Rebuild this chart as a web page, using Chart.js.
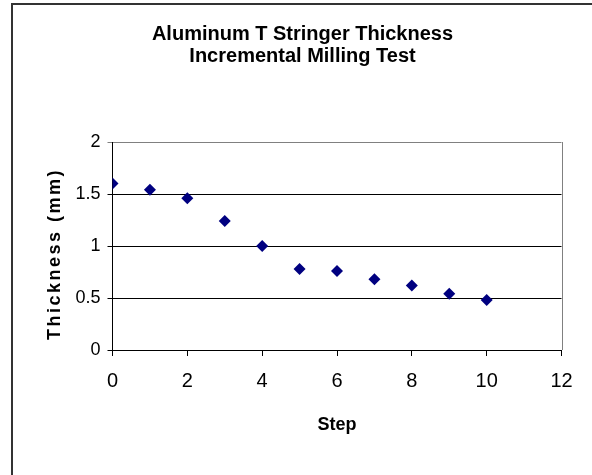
<!DOCTYPE html>
<html>
<head>
<meta charset="utf-8">
<script src="https://cdn.jsdelivr.net/npm/chart.js@4.4.0/dist/chart.umd.min.js"></script>
<style>
	html, body {margin: 0; padding: 0; background: #ffffff;}
	#wrap {width: 592px; height: 475px; position: relative;}
</style>
</head>
<body>
<div id="wrap"><canvas id="chart" width="592" height="475"></canvas></div>
<script>
// values
const steps = [0, 1, 2, 3, 4, 5, 6, 7, 8, 9, 10];
const thickness = [1.6, 1.54, 1.46, 1.24, 1.0, 0.78, 0.76, 0.68, 0.62, 0.54, 0.48];
const titleLines = ['Aluminum T Stringer Thickness', 'Incremental Milling Test'];
const xTitle = 'Step';
const yTitle = 'Thickness (mm)';

const FONT = "'Liberation Sans', Arial, sans-serif";

let points = steps.map((s, i) => ({x: s, y: thickness[i]}));

// outer frame, plot right edge and the spaced-out y axis title
const extras = {
	id: 'extras',
	afterDraw(chart) {
		const ctx = chart.ctx;
		const area = chart.chartArea;
		ctx.save();
		// chart frame (only left and top fit in the window)
		ctx.strokeStyle = '#333333';
		ctx.lineWidth = 2;
		ctx.beginPath();
		ctx.moveTo(12, 475);
		ctx.lineTo(12, 4);
		ctx.lineTo(592, 4);
		ctx.stroke();
		// plot area right border
		ctx.strokeStyle = '#808080';
		ctx.lineWidth = 1;
		ctx.beginPath();
		ctx.moveTo(Math.round(area.right) + 0.5, area.top);
		ctx.lineTo(Math.round(area.right) + 0.5, area.bottom);
		ctx.stroke();
		// y title
		ctx.translate(55, 254);
		ctx.rotate(-Math.PI / 2);
		ctx.font = 'bold 18px ' + FONT;
		ctx.letterSpacing = '2.5px';
		ctx.fillStyle = '#000000';
		ctx.textAlign = 'center';
		ctx.textBaseline = 'middle';
		ctx.fillText(yTitle, 0, 0);
		ctx.restore();
	}
};

let ctx = document.getElementById('chart').getContext('2d');
let chart = new Chart(ctx, {
	type: 'scatter',
	data: {
		datasets: [{
			data: points,
			pointStyle: 'rectRot',
			pointRadius: 6,
			backgroundColor: '#000080',
			borderColor: '#000080',
			borderWidth: 0
		}]
	},
	options: {
		responsive: false,
		animation: false,
		layout: {padding: {left: 43.5, right: 30.5, top: 0, bottom: 0}},
		plugins: {
			legend: {display: false},
			tooltip: {enabled: false},
			title: {
				display: true,
				text: titleLines,
				color: '#000000',
				font: {family: FONT, size: 20, weight: 'bold', lineHeight: 1.1},
				padding: {top: 23, bottom: 75}
			}
		},
		scales: {
			x: {
				type: 'linear',
				min: 0,
				max: 12,
				ticks: {stepSize: 2, color: '#000000', font: {family: FONT, size: 20}, padding: 13},
				grid: {drawOnChartArea: false, drawTicks: true, tickLength: 6, color: '#000000'},
				border: {display: true, color: '#000000', width: 1},
				title: {
					display: true,
					text: xTitle,
					color: '#000000',
					font: {family: FONT, size: 18, weight: 'bold'},
					padding: {top: 0, bottom: 39}
				},
				afterFit: (scale) => { scale.height = 125; }
			},
			y: {
				min: 0,
				max: 2,
				ticks: {
					stepSize: 0.5,
					color: '#000000',
					font: {family: FONT, size: 18},
					padding: 7,
					callback: (v) => String(v)
				},
				grid: {
					drawTicks: true,
					tickLength: 5,
					color: (c) => c.tick && c.tick.value === 2 ? '#808080' : '#000000'
				},
				border: {display: true, color: '#000000', width: 1},
				afterFit: (scale) => { scale.width = 69; }
			}
		}
	},
	plugins: [extras]
});
</script>
</body>
</html>
